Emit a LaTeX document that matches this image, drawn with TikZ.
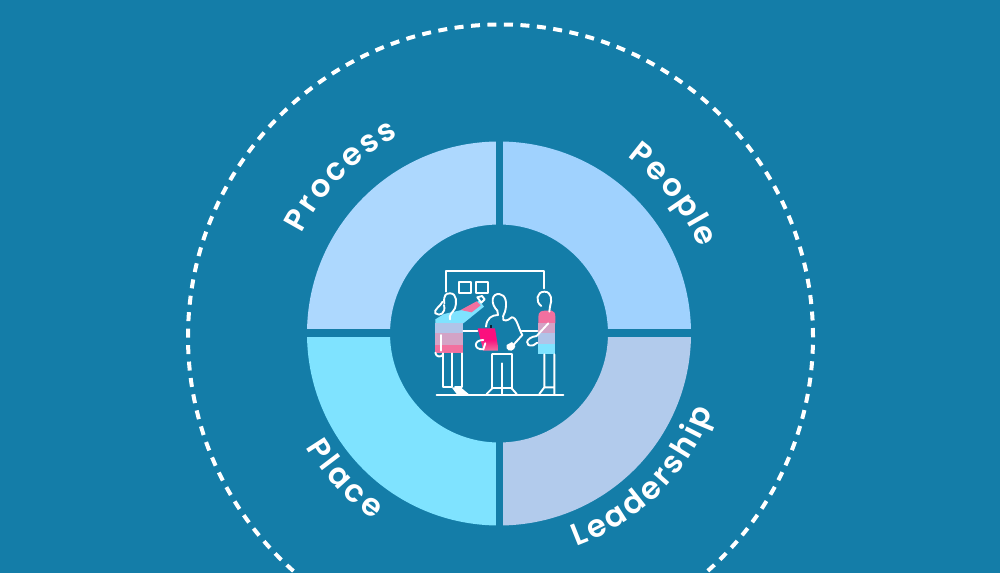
\documentclass[tikz,border=0pt]{standalone}
\usepackage{fontspec}
\setmainfont{Poppins SemiBold}
\usetikzlibrary{decorations.text}
\definecolor{bg}{HTML}{147DA8}
\definecolor{qa}{HTML}{ADD8FE}
\definecolor{qb}{HTML}{A0D2FE}
\definecolor{qc}{HTML}{7FE3FF}
\definecolor{qd}{HTML}{B2CBEC}
\definecolor{bluep}{HTML}{B0C4E8}
\definecolor{mauve}{HTML}{D3A3C6}
\definecolor{pink}{HTML}{F2709F}
\definecolor{hot}{HTML}{FB0F7E}
\tikzset{
 quad/.style={fill=#1,draw=none},
 lbl/.style={decorate,decoration={text along path,text align={align=left,fit to path},
   text={|\fontsize{31}{31}\selectfont\color{white}|#1}}},
 fig/.style={draw=white,line width=1.9pt,line cap=round,line join=round}
}
\newcommand{\ringq}[3]{\fill[quad=#3] (#1:192) arc (#1:#2:192) -- (#2:109) arc (#2:#1:109) -- cycle;}
\begin{document}
\begin{tikzpicture}[x=1pt,y=1pt]
\useasboundingbox (0,0) rectangle (1000,573);
\fill[bg] (0,0) rectangle (1000,573);
\clip (0,0) rectangle (1000,573);
\draw[white,line width=4pt,dash pattern=on 9pt off 7.5pt] (500.5,236) circle[radius=312.5];
\begin{scope}[shift={(499,239.5)}]
 \ringq{90}{180}{qa}
 \ringq{0}{90}{qb}
 \ringq{180}{270}{qc}
 \ringq{270}{360}{qd}
 \fill[bg] (-196,-4) rectangle (196,4);
 \fill[bg] (-3.5,-196) rectangle (3.5,196);
 \path[lbl={Process}] (153:221) arc (153:117:221);
 \path[lbl={People}] (54:218) arc (54:23:218);
 \path[lbl={Leadership}] (-70:227) arc (-70:-20:227);
 \path[lbl={Place}] (-149.5:224) arc (-149.5:-124:224);
\end{scope}
\begin{scope}[shift={(420,313)},x=0.3333pt,y=-0.3333pt]
 % stripes left person
 \fill[qc] (72,162) -- (125,150) -- (178,122) -- (192,140) -- (130,190) -- (46,190) -- (46,178) -- cycle;
 \fill[pink] (122,150) -- (170,124) -- (182,136) -- (155,157) -- cycle;
 \fill[bluep] (46,190) -- (130,190) -- (130,220) -- (46,220) -- cycle;
 \fill[mauve] (46,220) rectangle (130,255);
 \fill[pink] (46,255) rectangle (130,280);
 % right person
 \fill[pink] (355,170) .. controls (355,155) and (365,152) .. (375,152) -- (395,152) .. controls (402,152) and (406,160) .. (406,170) -- (406,190) -- (355,190) -- cycle;
 \fill[mauve] (355,190) rectangle (406,220);
 \fill[bluep] (355,220) rectangle (406,252);
 \fill[qc] (355,252) rectangle (406,283);
 % clipboard
 \shade[top color=hot,bottom color=pink,middle color=hot] (173,205) -- (225,205) -- (236,272) -- (190,272) -- cycle;
 \fill[black!70!bg] (209,196) rectangle (216,205);
 % board
 \draw[fig] (77,95) -- (77,32) -- (372,32) -- (372,85);
 \draw[fig] (117,65) rectangle (153,100);
 \draw[fig] (167,65) rectangle (203,100);
 \draw[fig] (50,404) -- (430,404);
 % left person
 \draw[fig] (73,130) .. controls (70,105) and (78,100) .. (90,100) .. controls (112,100) and (110,130) .. (105,145) .. controls (100,155) and (85,165) .. (90,178);
 \draw[fig] (68,125) .. controls (60,140) and (40,150) .. (46,160) .. controls (60,170) and (78,160) .. (72,135);
 \draw[fig] (70,280) -- (70,382) -- (95,382) -- (95,280);
 \draw[fig] (105,382) -- (125,382) -- (125,280);
 \draw[fig] (63,225) -- (63,272);
 \draw[fig] (46,278) .. controls (48,292) and (62,292) .. (68,285);
 \draw[fig] (130,212) -- (172,212);
 \fill[white] (95,382) -- (122,382) -- (146,402) -- (110,402) -- cycle;
 \draw[fig] (172,112) -- (186,108) -- (194,118) -- (184,128) -- cycle;
 % centre person
 \draw[fig] (232,152) .. controls (210,130) and (215,100) .. (238,102) .. controls (258,104) and (262,130) .. (255,155) .. controls (252,165) and (245,172) .. (250,180) .. controls (262,185) and (270,175) .. (275,172);
 \draw[fig] (232,152) -- (234,165) .. controls (215,165) and (200,175) .. (198,200);
 \draw[fig] (275,172) .. controls (290,170) and (295,205) .. (307,225) -- (280,255);
 \fill[white] (260,255) -- (276,246) -- (286,258) .. controls (285,272) and (265,278) .. (260,265) -- cycle;
 \draw[fig] (190,240) .. controls (160,240) and (160,270) .. (190,268) -- (196,250);
 \draw[fig] (217,283) -- (275,283) -- (275,385);
 \draw[fig] (217,283) -- (217,385) (246,310) -- (246,402) (217,385) -- (275,385);
 \draw[fig] (217,385) -- (200,402) (275,385) -- (290,402);
 % right person
 \draw[fig] (364,138) .. controls (345,125) and (350,95) .. (373,95) .. controls (395,95) and (397,120) .. (390,140) -- (388,155);
 \draw[fig] (305,212) -- (352,212);
 \draw[fig] (385,190) -- (350,228) .. controls (315,232) and (312,262) .. (340,256) -- (352,248);
 \draw[fig] (373,283) -- (373,382) -- (358,402) (403,283) -- (403,402) (373,382) -- (403,382);
\end{scope}
\end{tikzpicture}
\end{document}
